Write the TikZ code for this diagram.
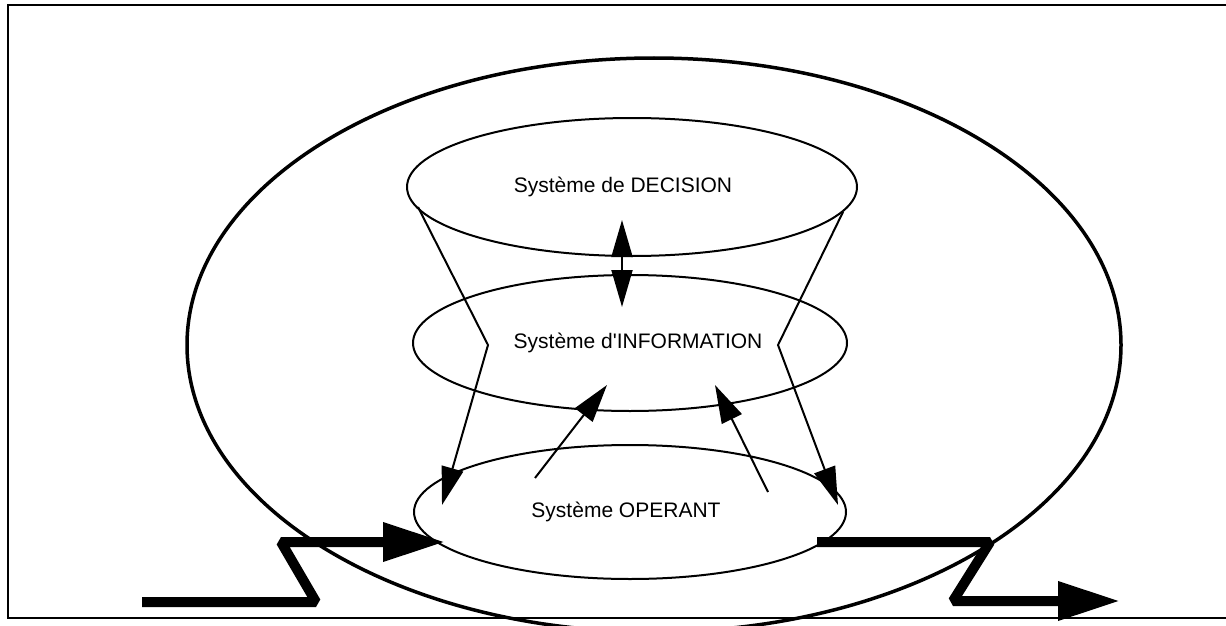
\documentclass[tikz,border=0pt]{standalone}
\usepackage{fontspec}
\setmainfont{Liberation Sans}[Ligatures=TeXOff]
\usetikzlibrary{arrows.meta,shapes.geometric}
\begin{document}
\begin{tikzpicture}[x=1pt,y=-1pt,
  sys/.style={ellipse,draw,line width=2pt,inner sep=0pt},
  lbl/.style={font=\fontsize{21}{25}\selectfont,inner sep=0pt},
  thinarrow/.style={line width=2pt,-{Triangle[length=38pt,width=22pt]}},
  thickarrow/.style={line width=10pt,line join=bevel,-{Triangle[length=62pt,width=37pt]}},
  dblarrow/.style={line width=2pt,{Triangle[length=37pt,width=21pt]}-{Triangle[length=37pt,width=21pt]}}]
\useasboundingbox (0,0) rectangle (1226,626);
\begin{scope}
\clip (0,0) rectangle (1226,626);
\draw[line width=3.5pt] (654,345) ellipse [x radius=467, y radius=287];
\end{scope}
% frame
\draw[line width=2.5pt] (1226,5) -- (8,5) -- (8,618) -- (1226,618);
% systems
\node[sys, minimum width=450pt, minimum height=138pt] (dec) at (632,187) {};
\node[lbl] (dect) at (623,187) {Système de DECISION};
\node[sys, minimum width=434pt, minimum height=136pt] (inf) at (630,343) {};
\node[lbl] (inft) at (638,343) {Système d'INFORMATION};
\node[sys, minimum width=432pt, minimum height=134pt] (ope) at (630,512) {};
\node[lbl] (opet) at (626,512) {Système OPERANT};
% coordinates
\coordinate (l1) at (418,207);
\coordinate (l2) at (488,345);
\coordinate (l3) at (442,505);
\coordinate (r1) at (843,212);
\coordinate (r2) at (778,345);
\coordinate (r3) at (838,505);
\coordinate (m1) at (535,478);
\coordinate (m2) at (607,385);
\coordinate (n1) at (768,492);
\coordinate (n2) at (715,385);
\coordinate (d1) at (622,220);
\coordinate (d2) at (622,307);
\coordinate (i1) at (142,602);
\coordinate (i2) at (316,602);
\coordinate (i3) at (281,542);
\coordinate (i4) at (445,542);
\coordinate (o1) at (817,542);
\coordinate (o2) at (990,542);
\coordinate (o3) at (953,601);
\coordinate (o4) at (1120,601);
% connectors
\draw[thinarrow] (l1) -- (l2) -- (l3);
\draw[thinarrow] (r1) -- (r2) -- (r3);
\draw[thinarrow] (m1) -- (m2);
\draw[thinarrow] (n1) -- (n2);
\draw[dblarrow] (d1) -- (d2);
\draw[thickarrow] (i1) -- (i2) -- (i3) -- (i4);
\draw[thickarrow] (o1) -- (o2) -- (o3) -- (o4);
\end{tikzpicture}
\end{document}
